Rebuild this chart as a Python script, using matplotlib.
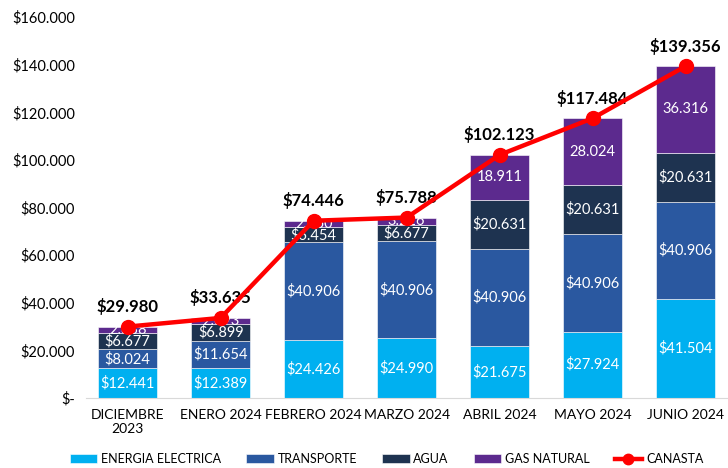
import numpy as np
import matplotlib.pyplot as plt

plt.rcParams['font.family'] = ['Lato', 'DejaVu Sans']

meses = ['DICIEMBRE\n2023', 'ENERO 2024', 'FEBRERO 2024', 'MARZO 2024',
         'ABRIL 2024', 'MAYO 2024', 'JUNIO 2024']
energia = [12441, 12389, 24426, 24990, 21675, 27924, 41504]
transporte = [8024, 11654, 40906, 40906, 40906, 40906, 40906]
agua = [6677, 6899, 6454, 6677, 20631, 20631, 20631]
gas = [2838, 2693, 2660, 3216, 18911, 28024, 36316]
canasta = [29980, 33635, 74446, 75788, 102123, 117484, 139356]


def fmt(v):
    return '{:,}'.format(v).replace(',', '.')


fig = plt.figure(figsize=(7.28, 4.68), dpi=100)
ax = fig.add_axes([0.118, 0.1496, 0.894, 0.814])

x = np.arange(len(meses))
w = 0.64
series = [
    (energia, 'ENERGIA ELECTRICA', '#00B0F0', '$'),
    (transporte, 'TRANSPORTE', '#2A58A0', '$'),
    (agua, 'AGUA', '#1E3350', '$'),
    (gas, 'GAS NATURAL', '#5C2A8E', ''),
]
bottom = np.zeros(len(meses))
handles = []
for vals, name, col, pre in series:
    vals = np.array(vals)
    b = ax.bar(x, vals, w, bottom=bottom, color=col, label=name,
               edgecolor='white', linewidth=0.4)
    handles.append(b)
    for xi, bt, v in zip(x, bottom, vals):
        ax.text(xi, bt + v / 2, pre + fmt(int(v)), ha='center', va='center',
                color='white', fontsize=10.5)
    bottom = bottom + vals

ln, = ax.plot(x, canasta, color='#FF0000', lw=3.2, marker='o', markersize=10,
              label='CANASTA', zorder=5)
handles.append(ln)
for xi, v in zip(x, canasta):
    ax.text(xi, v + 4800, '$' + fmt(v), ha='center', va='bottom',
            fontsize=12, fontweight='bold', color='black')

ax.set_xlim(-0.45, 6.55)
ax.set_ylim(0, 160000)
yt = np.arange(0, 160001, 20000)
ax.set_yticks(yt)
ax.set_yticklabels(['$-'] + ['$' + fmt(int(v)) for v in yt[1:]], fontsize=10.5)
ax.set_xticks(x)
ax.set_xticklabels(meses, fontsize=10)
ax.tick_params(length=0, pad=8)
for s in ['top', 'right', 'left']:
    ax.spines[s].set_visible(False)
ax.spines['bottom'].set_color('#D9D9D9')

ax.legend(handles=handles, loc='center', bbox_to_anchor=(0.462, -0.16), ncol=5,
          frameon=False, fontsize=9, handlelength=2.2, handletextpad=0.3,
          columnspacing=2.0, markerscale=0.75)

fig.savefig('out.png', dpi=100)
